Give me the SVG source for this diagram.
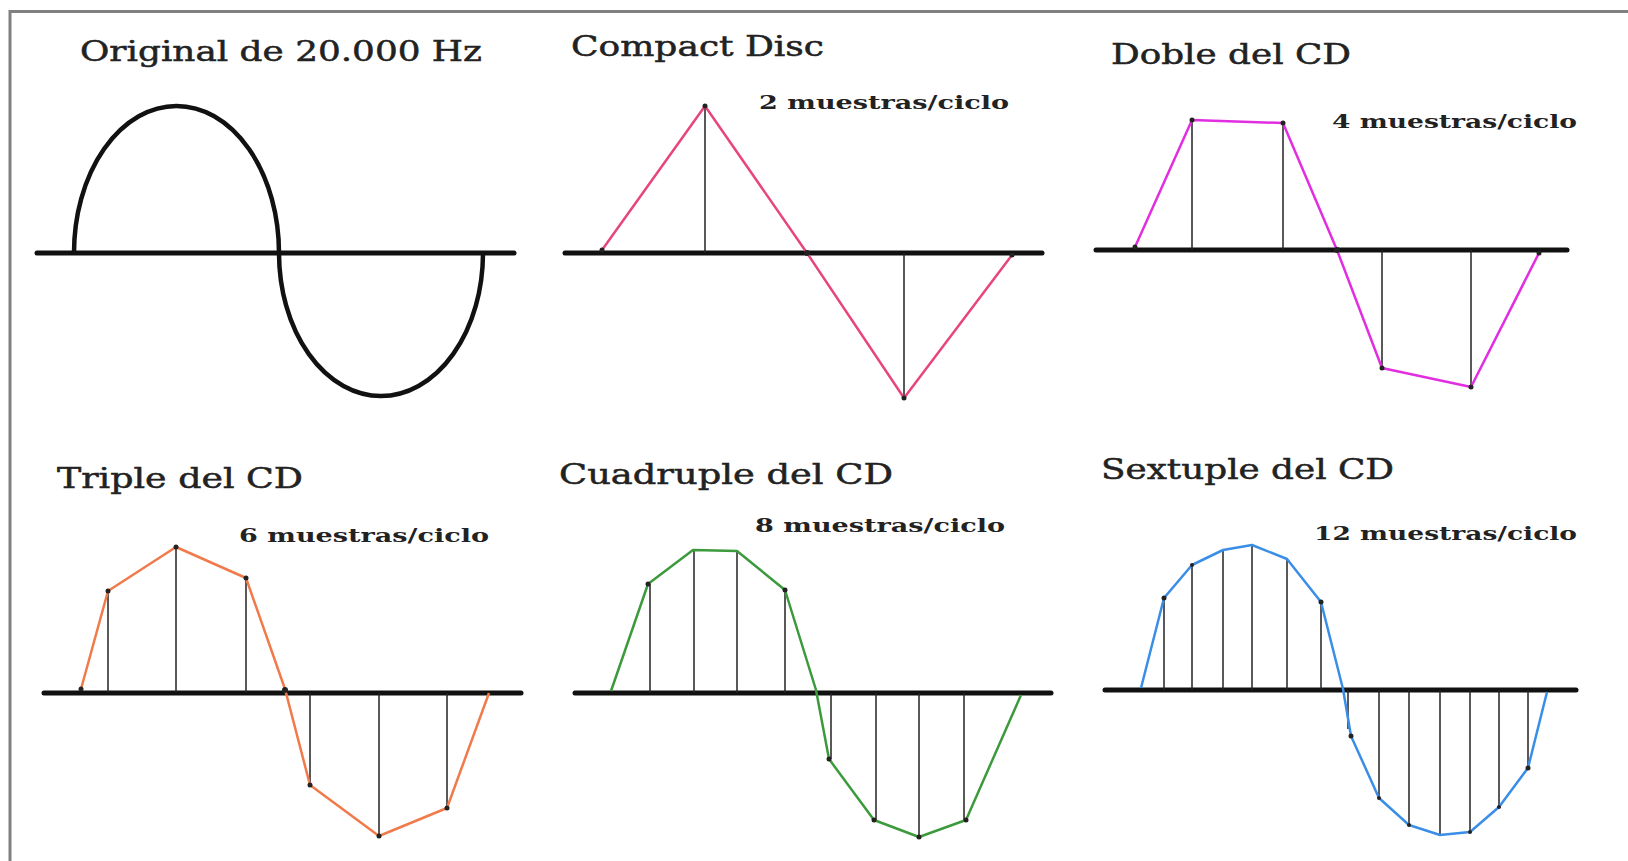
<svg xmlns="http://www.w3.org/2000/svg" width="1628" height="861" viewBox="0 0 1628 861">
<style>
.frame{stroke:#808080;stroke-width:3;fill:none}
.axis{stroke:#111;stroke-width:5;stroke-linecap:round}
.stem{stroke:#222;stroke-width:1.5}
.title{font-family:"DejaVu Serif","Liberation Serif",serif;font-size:28px;fill:#222;stroke:#222;stroke-width:0.5}
.label{font-family:"DejaVu Serif","Liberation Serif",serif;font-size:18.5px;font-weight:bold;fill:#222}
.wave{fill:none;stroke-width:2.5;stroke-linejoin:round}
.dot{fill:#222}
</style>
<rect width="1628" height="861" fill="#ffffff"/>
<path class="frame" d="M10,861 L10,11.5 L1628,11.5"/>

<g id="original">
<text class="title" x="80" y="61" textLength="402" lengthAdjust="spacingAndGlyphs">Original de 20.000 Hz</text>
<line class="axis" x1="37" y1="253" x2="514" y2="253"/>
<path d="M74,253 A102.5,147 0 0 1 279,253 A102,143 0 0 0 483,253" fill="none" stroke="#111" stroke-width="4.5"/>
</g>

<g id="compact-disc">
<text class="title" x="571" y="56" textLength="253" lengthAdjust="spacingAndGlyphs">Compact Disc</text>
<text class="label" x="759" y="109" textLength="250" lengthAdjust="spacingAndGlyphs">2 muestras/ciclo</text>
<line class="axis" x1="565" y1="253" x2="1042" y2="253"/>
<line class="stem" x1="705" y1="106" x2="705" y2="253"/>
<line class="stem" x1="904" y1="253" x2="904" y2="398"/>
<polyline class="wave" stroke="#e8457f" points="602,250 705,106 807,253 904,398 1012,255"/>
<circle class="dot" cx="602" cy="250" r="2.5"/><circle class="dot" cx="705" cy="106" r="2.5"/><circle class="dot" cx="807" cy="253" r="3"/><circle class="dot" cx="904" cy="398" r="2.5"/><circle class="dot" cx="1012" cy="255" r="2.5"/>
</g>

<g id="doble">
<text class="title" x="1111" y="64" textLength="240" lengthAdjust="spacingAndGlyphs">Doble del CD</text>
<text class="label" x="1332" y="128" textLength="245" lengthAdjust="spacingAndGlyphs">4 muestras/ciclo</text>
<line class="axis" x1="1096" y1="250" x2="1567" y2="250"/>
<line class="stem" x1="1192" y1="120" x2="1192" y2="250"/>
<line class="stem" x1="1283" y1="123" x2="1283" y2="250"/>
<line class="stem" x1="1382" y1="250" x2="1382" y2="368"/>
<line class="stem" x1="1471" y1="250" x2="1471" y2="387"/>
<polyline class="wave" stroke="#e02ee0" points="1135,247 1192,120 1283,123 1337,250 1382,368 1471,387 1539,253"/>
<circle class="dot" cx="1135" cy="247" r="2.5"/><circle class="dot" cx="1192" cy="120" r="2.5"/><circle class="dot" cx="1283" cy="123" r="2.5"/><circle class="dot" cx="1337" cy="250" r="3"/><circle class="dot" cx="1382" cy="368" r="2.5"/><circle class="dot" cx="1471" cy="387" r="2.5"/><circle class="dot" cx="1539" cy="253" r="2.5"/>
</g>

<g id="triple">
<text class="title" x="57" y="488" textLength="246" lengthAdjust="spacingAndGlyphs">Triple del CD</text>
<text class="label" x="239" y="542" textLength="250" lengthAdjust="spacingAndGlyphs">6 muestras/ciclo</text>
<line class="axis" x1="44" y1="693" x2="521" y2="693"/>
<line class="stem" x1="108" y1="591" x2="108" y2="693"/>
<line class="stem" x1="176" y1="547" x2="176" y2="693"/>
<line class="stem" x1="246" y1="578" x2="246" y2="693"/>
<line class="stem" x1="310" y1="693" x2="310" y2="785"/>
<line class="stem" x1="379" y1="693" x2="379" y2="836"/>
<line class="stem" x1="447" y1="693" x2="447" y2="808"/>
<polyline class="wave" stroke="#f07a4a" points="81,689 108,591 176,547 246,578 285,689 310,785 379,836 447,808 489,693"/>
<circle class="dot" cx="81" cy="689" r="2.5"/><circle class="dot" cx="108" cy="591" r="2.5"/><circle class="dot" cx="176" cy="547" r="2.5"/><circle class="dot" cx="246" cy="578" r="2.5"/><circle class="dot" cx="285" cy="690" r="3"/><circle class="dot" cx="310" cy="785" r="2.5"/><circle class="dot" cx="379" cy="836" r="2.5"/><circle class="dot" cx="447" cy="808" r="2.5"/>
</g>

<g id="cuadruple">
<text class="title" x="559" y="484" textLength="334" lengthAdjust="spacingAndGlyphs">Cuadruple del CD</text>
<text class="label" x="755" y="532" textLength="250" lengthAdjust="spacingAndGlyphs">8 muestras/ciclo</text>
<line class="axis" x1="575" y1="693" x2="1051" y2="693"/>
<line class="stem" x1="650" y1="584" x2="650" y2="693"/>
<line class="stem" x1="694" y1="550" x2="694" y2="693"/>
<line class="stem" x1="737" y1="551" x2="737" y2="693"/>
<line class="stem" x1="785" y1="590" x2="785" y2="693"/>
<line class="stem" x1="831" y1="693" x2="831" y2="759"/>
<line class="stem" x1="876" y1="693" x2="876" y2="820"/>
<line class="stem" x1="919" y1="693" x2="919" y2="837"/>
<line class="stem" x1="964" y1="693" x2="964" y2="820"/>
<polyline class="wave" stroke="#3c9a3c" points="611,691 648,584 693,550 737,551 785,590 816,690 829,759 874,820 919,837 966,820 1021,695"/>
<circle class="dot" cx="648" cy="584" r="2.5"/><circle class="dot" cx="785" cy="590" r="2.5"/><circle class="dot" cx="829" cy="759" r="2.5"/><circle class="dot" cx="874" cy="820" r="2.5"/><circle class="dot" cx="919" cy="837" r="2.5"/><circle class="dot" cx="966" cy="820" r="2.5"/>
</g>

<g id="sextuple">
<text class="title" x="1101" y="479" textLength="293" lengthAdjust="spacingAndGlyphs">Sextuple del CD</text>
<text class="label" x="1314" y="540" textLength="263" lengthAdjust="spacingAndGlyphs">12 muestras/ciclo</text>
<line class="axis" x1="1105" y1="690" x2="1576" y2="690"/>
<line class="stem" x1="1164" y1="598" x2="1164" y2="690"/>
<line class="stem" x1="1192" y1="565" x2="1192" y2="690"/>
<line class="stem" x1="1223" y1="550" x2="1223" y2="690"/>
<line class="stem" x1="1252" y1="545" x2="1252" y2="690"/>
<line class="stem" x1="1287" y1="559" x2="1287" y2="690"/>
<line class="stem" x1="1321" y1="602" x2="1321" y2="690"/>
<line class="stem" x1="1348" y1="690" x2="1348" y2="729"/>
<line class="stem" x1="1379" y1="690" x2="1379" y2="798"/>
<line class="stem" x1="1409" y1="690" x2="1409" y2="825"/>
<line class="stem" x1="1440" y1="690" x2="1440" y2="835"/>
<line class="stem" x1="1470" y1="690" x2="1470" y2="832"/>
<line class="stem" x1="1499" y1="690" x2="1499" y2="807"/>
<line class="stem" x1="1528" y1="690" x2="1528" y2="768"/>
<polyline class="wave" stroke="#3a8ee6" points="1141,688 1164,598 1192,565 1223,550 1252,545 1287,559 1321,602 1343,689 1351,736 1379,798 1409,825 1440,835 1470,832 1499,807 1528,768 1547,692"/>
<circle class="dot" cx="1164" cy="598" r="2.5"/><circle class="dot" cx="1192" cy="565" r="2"/><circle class="dot" cx="1321" cy="602" r="2.5"/><circle class="dot" cx="1351" cy="736" r="2.5"/><circle class="dot" cx="1379" cy="798" r="2"/><circle class="dot" cx="1409" cy="825" r="2"/><circle class="dot" cx="1470" cy="832" r="2"/><circle class="dot" cx="1499" cy="807" r="2"/><circle class="dot" cx="1528" cy="768" r="2.5"/>
</g>
</svg>
